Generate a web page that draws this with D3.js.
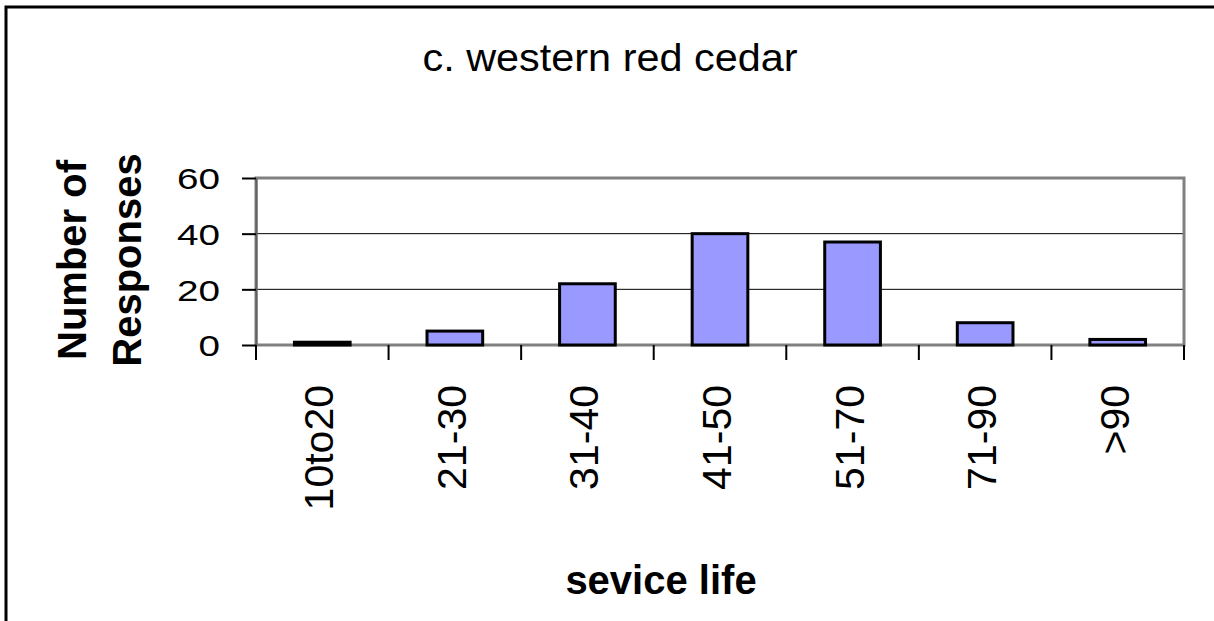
<!DOCTYPE html>
<html>
<head>
<meta charset="utf-8">
<script src="https://cdn.jsdelivr.net/npm/d3@7"></script>
<style>
    body { margin: 0; background: #fff; }
    svg { display: block; font-family: "Liberation Sans", Arial, sans-serif; }
</style>
</head>
<body>
<div id="chart"></div>
<script>

// Survey responses per service life class
let categories = ["10to20", "21-30", "31-40", "41-50", "51-70", "71-90", ">90"];
let responses = [1, 5, 22, 40, 37, 8, 2];
let yTicks = [0, 20, 40, 60];
let gridValues = [20, 40];

let chartTitle = "c. western red cedar";
let yTitle = ["Number of", "Responses"];
let xTitle = "sevice life";

let plot = { left: 256, right: 1184, top: 178, bottom: 345 };

let svg = d3.select("#chart")
    .append("svg")
    .attr("width", 1214)
    .attr("height", 621);

// Outer chart border (runs off the right and bottom edge)
svg.append("path")
    .attr("d", "M6,640 V7 H1230")
    .attr("fill", "none")
    .attr("stroke", "#000")
    .attr("stroke-width", 3);

let x = d3.scaleBand()
    .domain(categories)
    .range([plot.left, plot.right])
    .paddingInner(0)
    .paddingOuter(0);

let y = d3.scaleLinear()
    .domain([0, 60])
    .range([plot.bottom, plot.top]);

// Gridlines
svg.append("g")
    .selectAll("line")
    .data(gridValues)
    .enter()
    .append("line")
    .attr("x1", plot.left)
    .attr("x2", plot.right)
    .attr("y1", d => y(d))
    .attr("y2", d => y(d))
    .attr("stroke", "#000")
    .attr("stroke-width", 1);

// Plot area frame
svg.append("rect")
    .attr("x", plot.left)
    .attr("y", y(60))
    .attr("width", plot.right - plot.left)
    .attr("height", y(0) - y(60))
    .attr("fill", "none")
    .attr("stroke", "#808080")
    .attr("stroke-width", 3);

// Bars
let barWidth = x.bandwidth() * 0.42;
svg.append("g")
    .selectAll("rect")
    .data(categories)
    .enter()
    .append("rect")
    .attr("x", d => x(d) + (x.bandwidth() - barWidth) / 2)
    .attr("y", (d, i) => y(responses[i]))
    .attr("width", barWidth)
    .attr("height", (d, i) => y(0) - y(responses[i]))
    .attr("fill", "#9999ff")
    .attr("stroke", "#000")
    .attr("stroke-width", 3);

// Y axis
let yAxis = svg.append("g")
    .attr("transform", "translate(" + plot.left + ",0)")
    .call(d3.axisLeft(y)
        .tickValues(yTicks)
        .tickSize(14)
        .tickSizeOuter(0)
        .tickPadding(22)
        .tickFormat(d3.format("d")));

yAxis.select(".domain")
    .attr("stroke", "#606060")
    .attr("stroke-width", 2);
yAxis.selectAll(".tick line")
    .attr("stroke", "#000")
    .attr("stroke-width", 2);
yAxis.selectAll(".tick text")
    .attr("font-family", "Liberation Sans, Arial, sans-serif")
    .attr("font-size", 30)
    .attr("fill", "#000")
    .attr("dy", "0.36em")
    .attr("textLength", d => String(d).length * 21.5)
    .attr("lengthAdjust", "spacingAndGlyphs");

// X axis: labels at band centres, tick marks at band boundaries
let xAxis = svg.append("g")
    .attr("transform", "translate(0," + plot.bottom + ")")
    .call(d3.axisBottom(x).tickSize(0).tickSizeOuter(0));

xAxis.select(".domain").remove();
xAxis.selectAll(".tick text")
    .attr("font-family", "Liberation Sans, Arial, sans-serif")
    .attr("font-size", 41)
    .attr("fill", "#000")
    .attr("text-anchor", "end")
    .attr("transform", "rotate(-90)")
    .attr("x", -40)
    .attr("y", 11)
    .attr("dy", 0);

let boundaries = categories.map(d => x(d)).concat([plot.right]);
svg.append("g")
    .selectAll("line")
    .data(boundaries)
    .enter()
    .append("line")
    .attr("x1", d => d)
    .attr("x2", d => d)
    .attr("y1", plot.bottom)
    .attr("y2", plot.bottom + 15)
    .attr("stroke", "#000")
    .attr("stroke-width", 2);

// Titles
svg.append("text")
    .attr("x", 610)
    .attr("y", 71)
    .attr("text-anchor", "middle")
    .attr("font-size", 38)
    .attr("textLength", 375)
    .attr("lengthAdjust", "spacingAndGlyphs")
    .text(chartTitle);

let yTitleGroup = svg.append("g")
    .attr("transform", "translate(86,260) rotate(-90)");

yTitleGroup.selectAll("text")
    .data(yTitle)
    .enter()
    .append("text")
    .attr("x", 0)
    .attr("y", (d, i) => i * 55)
    .attr("text-anchor", "middle")
    .attr("font-size", 40)
    .attr("font-weight", "bold")
    .text(d => d);

svg.append("text")
    .attr("x", 661)
    .attr("y", 594)
    .attr("text-anchor", "middle")
    .attr("font-size", 40)
    .attr("font-weight", "bold")
    .text(xTitle);

</script>
</body>
</html>
